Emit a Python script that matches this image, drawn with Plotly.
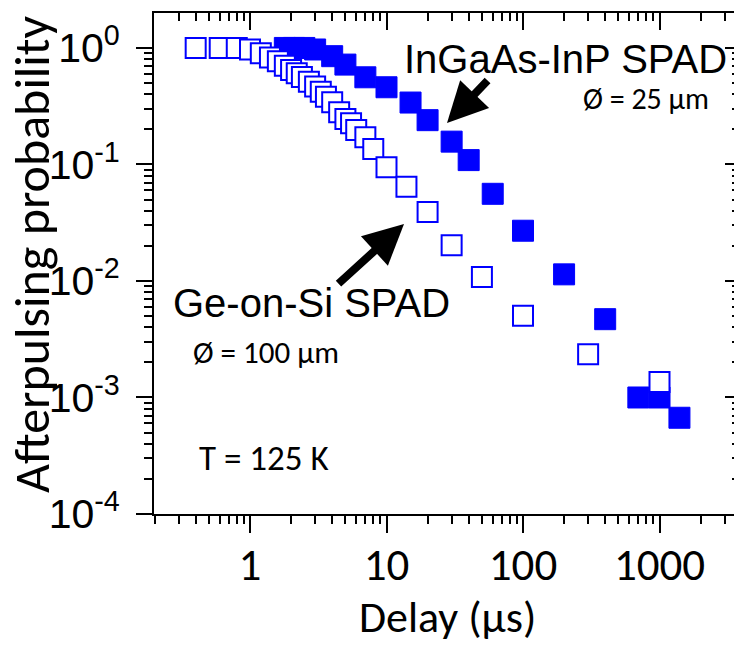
import plotly.graph_objects as go

# Afterpulsing probability vs. hold-off delay for two SPAD types (T = 125 K)
ingaas_delay = [1.8, 2.1, 2.5, 3.0, 4.0, 5.0, 7.0, 10, 15, 20, 30, 40, 60, 100,
                200, 400, 700, 1000, 1400]
ingaas_prob = [1.0, 1.0, 1.0, 0.97, 0.85, 0.72, 0.56, 0.46, 0.34, 0.24, 0.157,
               0.109, 0.056, 0.027, 0.0114, 0.0047, 0.001, 0.001, 0.00067]

gesi_delay = [0.4, 0.6, 0.8, 1.0, 1.2, 1.4, 1.6, 1.8, 2.0, 2.2, 2.4, 2.7, 3.0,
              3.3, 3.6, 4.0, 4.5, 5.0, 5.5, 6.0, 7.0, 8.0, 10, 14, 20, 30, 50,
              100, 300, 1000]
gesi_prob = [1.0, 1.0, 1.0, 0.97, 0.90, 0.83, 0.77, 0.705, 0.647, 0.606, 0.564,
             0.514, 0.466, 0.42, 0.382, 0.342, 0.28, 0.246, 0.226, 0.198, 0.171,
             0.136, 0.0946, 0.0645, 0.039, 0.0203, 0.0108, 0.00503, 0.00235,
             0.00136]

x_major = [1, 10, 100, 1000]
x_major_text = ["1", "10", "100", "1000"]
y_major = [1e-4, 1e-3, 1e-2, 1e-1, 1]
y_major_text = ["10<sup>-4</sup>", "10<sup>-3</sup>", "10<sup>-2</sup>",
                "10<sup>-1</sup>", "10<sup>0</sup>"]

x_minor = [m * 10.0 ** e for e in range(-1, 4) for m in range(2, 10)]
y_minor = [m * 10.0 ** e for e in range(-4, 0) for m in range(2, 10)]

BLUE = "#0000FF"
ARIAL = "Liberation Sans, Arial, sans-serif"
CALIBRI = "Carlito, Lato, sans-serif"

XRANGE = [-0.7033, 3.5458]
YRANGE = [-4.0, 0.300]

fig = go.Figure()

fig.add_trace(go.Scatter(
    x=ingaas_delay, y=ingaas_prob, mode="markers", name="InGaAs-InP SPAD",
    marker=dict(symbol="square", size=21, color=BLUE,
                line=dict(color=BLUE, width=1)),
    xaxis="x", yaxis="y", showlegend=False,
))
fig.add_trace(go.Scatter(
    x=gesi_delay, y=gesi_prob, mode="markers", name="Ge-on-Si SPAD",
    marker=dict(symbol="square", size=20, color="white",
                line=dict(color=BLUE, width=2)),
    xaxis="x2", yaxis="y2", showlegend=False,
))

tick_common = dict(tickcolor="black", tickwidth=1.5, showgrid=False,
                   zeroline=False)

fig.update_layout(
    width=734, height=646,
    margin=dict(l=154, r=0, t=13, b=132),
    paper_bgcolor="white", plot_bgcolor="white",
    xaxis=dict(
        type="log", range=XRANGE, domain=[0, 1], anchor="y",
        showline=True, linecolor="black", linewidth=2,
        ticks="outside", ticklen=17, tickvals=x_major, ticktext=x_major_text,
        tickfont=dict(family=CALIBRI, size=45, color="black"),
        ticklabelstandoff=-7,
        minor=dict(ticks="outside", ticklen=8, tickvals=x_minor,
                   tickcolor="black", tickwidth=1.5, showgrid=False),
        **tick_common,
    ),
    xaxis2=dict(
        type="log", range=XRANGE, overlaying="x", matches="x", side="top",
        anchor="y2", showline=True, linecolor="black", linewidth=2,
        ticks="inside", ticklen=17, tickvals=x_major, showticklabels=False,
        minor=dict(ticks="inside", ticklen=8, tickvals=x_minor,
                   tickcolor="black", tickwidth=1.5, showgrid=False),
        **tick_common,
    ),
    yaxis=dict(
        type="log", range=YRANGE, domain=[0, 1], anchor="x",
        showline=True, linecolor="black", linewidth=2,
        ticks="outside", ticklen=16, tickvals=y_major, ticktext=y_major_text,
        tickfont=dict(family=ARIAL, size=41, color="black"),
        ticklabelstandoff=8,
        minor=dict(ticks="outside", ticklen=8, tickvals=y_minor,
                   tickcolor="black", tickwidth=1.5, showgrid=False),
        **tick_common,
    ),
    yaxis2=dict(
        type="log", range=YRANGE, overlaying="y", matches="y", side="right",
        anchor="x2", showline=False,
        ticks="inside", ticklen=9, tickvals=y_major, showticklabels=False,
        minor=dict(ticks="inside", ticklen=2, tickvals=y_minor,
                   tickcolor="black", tickwidth=1.5, showgrid=False),
        **tick_common,
    ),
)

def px_to_paper(px, py):
    return (px - 154) / 580.0, (514 - py) / 501.0

labels = [
    ("InGaAs-InP SPAD", 565, 59, ARIAL, 40),
    ("Ø = 25 µm", 646, 98, CALIBRI, 30),
    ("Ge-on-Si SPAD", 311, 303, ARIAL, 40),
    ("Ø = 100 µm", 266, 352, CALIBRI, 31),
    ("T = 125 K", 264, 458, CALIBRI, 35),
    ("Delay (µs)", 447, 617, CALIBRI, 44),
]
for text, px, py, fam, size in labels:
    xp, yp = px_to_paper(px, py)
    fig.add_annotation(text=text, x=xp, y=yp, xref="paper", yref="paper",
                       xanchor="center", yanchor="middle", showarrow=False,
                       font=dict(family=fam, size=size, color="black"))

# Pointer arrows: (tip x, tip y, tail dx, tail dy) in pixels
arrows = [(447, 123, 42, -44), (404, 224, -67, 61)]
for px, py, dx, dy in arrows:
    xp, yp = px_to_paper(px, py)
    fig.add_annotation(text="", x=xp, y=yp, xref="paper", yref="paper",
                       ax=dx, ay=dy, showarrow=True, arrowhead=2,
                       arrowsize=1.0, arrowwidth=8, arrowcolor="black",
                       standoff=0)

y_title_x, y_title_y = px_to_paper(31, 254)
fig.add_annotation(text="Afterpulsing probability", x=y_title_x, y=y_title_y,
                   xref="paper", yref="paper", textangle=-90,
                   xanchor="center", yanchor="middle", showarrow=False,
                   font=dict(family=CALIBRI, size=50, color="black"))

fig.write_html("out.html")
